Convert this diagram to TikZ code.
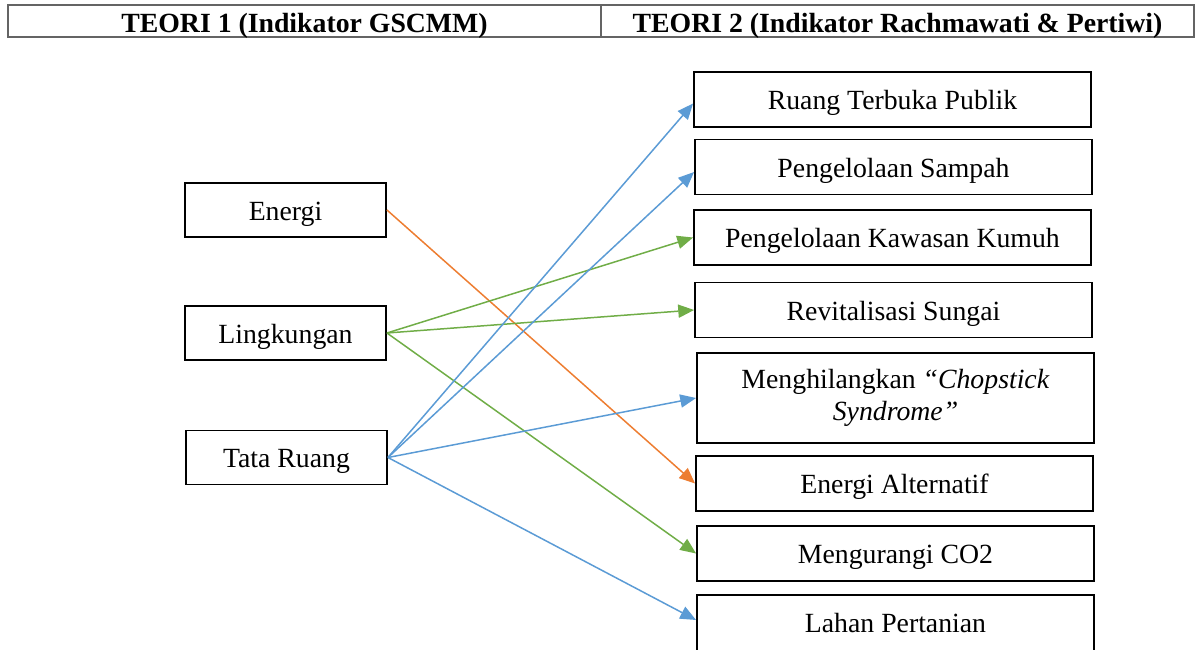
\documentclass[tikz,border=0pt]{standalone}
\usepackage{fontspec}
\setmainfont{Liberation Serif}
\usepackage{xcolor}
\definecolor{linkblue}{RGB}{91, 155, 213}
\definecolor{linkgreen}{RGB}{112, 173, 71}
\definecolor{linkorange}{RGB}{237, 125, 49}
\definecolor{hdrgray}{RGB}{100, 100, 100}
\usetikzlibrary{arrows.meta,positioning}
\tikzset{
    hdrcell/.style={draw=hdrgray, line width=1pt, minimum width=11.86cm, minimum height=0.64cm,
        inner sep=0pt, text height=0.56cm, text depth=0.08cm, font=\fontsize{15.8}{18}\selectfont\bfseries},
    leftbox/.style={draw, line width=1.1pt, minimum width=4.02cm, minimum height=1.08cm,
        inner sep=0pt, text height=0.6cm, text depth=0.2cm, font=\fontsize{15.8}{18}\selectfont},
    rightbox/.style={draw, line width=1.1pt, minimum width=7.94cm, minimum height=1.1cm,
        inner sep=0pt, text height=0.6cm, text depth=0.2cm, font=\fontsize{15.8}{18.2}\selectfont},
    twoline/.style={text height=, text depth=, align=center, minimum height=1.8cm},
    link/.style={line width=0.85pt, -{Triangle[length=9pt,width=7.5pt]}},
}
\begin{document}
\begin{tikzpicture}[x=0.02cm, y=-0.02cm]
    \clip (0,0) rectangle (1199,649);
    % header row
    \node[hdrcell] (teori1) at (304.5,21) {TEORI 1 (Indikator GSCMM)};
    \node[hdrcell] (teori2) at (897.5,21) {TEORI 2 (Indikator Rachmawati \& Pertiwi)};

    % indikator GSCMM
    \node[leftbox] (energi) at (285.5,210) {Energi};
    \node[leftbox] (lingkungan) at (285.5,333) {Lingkungan};
    \node[leftbox] (tataruang) at (286.5,457.5) {Tata Ruang};

    % indikator Rachmawati & Pertiwi
    \node[rightbox] (rtp) at (892.5,99.5) {Ruang Terbuka Publik};
    \node[rightbox] (sampah) at (893.5,167) {Pengelolaan Sampah};
    \node[rightbox] (kumuh) at (892.5,237.5) {Pengelolaan Kawasan Kumuh};
    \node[rightbox] (sungai) at (893.5,310) {Revitalisasi Sungai};
    \node[rightbox, twoline] (chopstick) at (895.5,398)
        {Menghilangkan \textit{“Chopstick}\\\textit{Syndrome”}};
    \node[rightbox] (energialt) at (894.5,483.5) {Energi Alternatif};
    \node[rightbox] (cotwo) at (895.5,553.5) {Mengurangi CO2};
    \node[rightbox, minimum height=1.2cm, text height=0.48cm] (lahan) at (895.5,625) {Lahan Pertanian};

    % hubungan
    \draw[link, linkorange] (energi.east) -- (energialt.west);
    \draw[link, linkgreen] (lingkungan.east) -- (kumuh.west);
    \draw[link, linkgreen] (lingkungan.east) -- (sungai.west);
    \draw[link, linkgreen] (lingkungan.east) -- (cotwo.west);
    \draw[link, linkblue] (tataruang.east) -- ([yshift=-0.08cm]rtp.west);
    \draw[link, linkblue] (tataruang.east) -- ([yshift=-0.1cm]sampah.west);
    \draw[link, linkblue] (tataruang.east) -- (chopstick.west);
    \draw[link, linkblue] (tataruang.east) -- ([yshift=0.1cm]lahan.west);
\end{tikzpicture}
\end{document}
